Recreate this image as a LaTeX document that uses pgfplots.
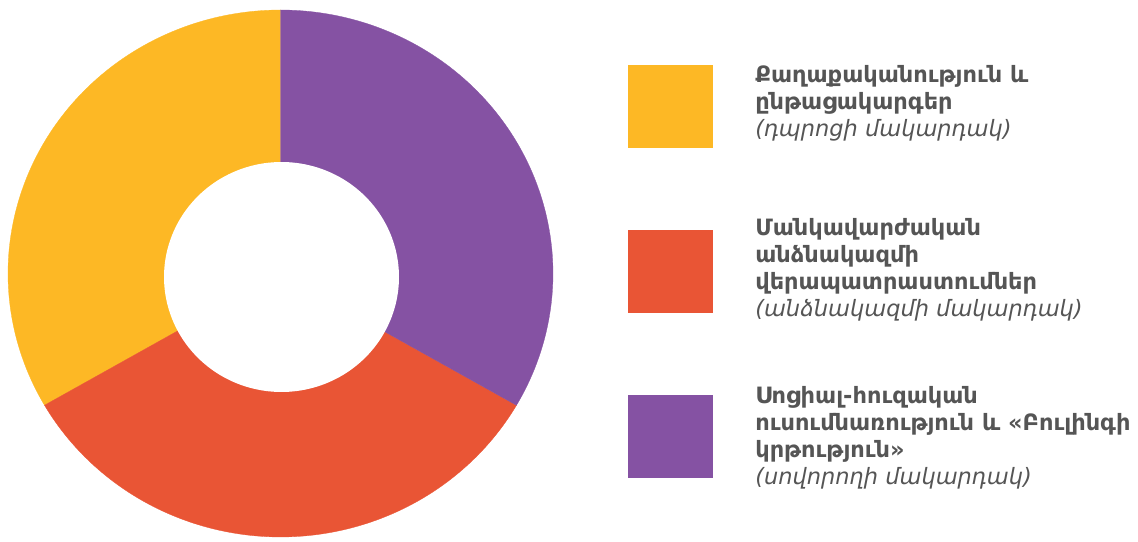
\documentclass[border=0pt]{standalone}
\usepackage{pgfplots}
\pgfplotsset{compat=1.18}
\usepackage{fontspec}
\setmainfont{DejaVu Sans}
\newfontfamily\arm{DejaVu Sans}
\definecolor{cY}{HTML}{FDB825}
\definecolor{cO}{HTML}{E95535}
\definecolor{cP}{HTML}{8552A3}
\definecolor{cT}{HTML}{555555}
% shares of the three levels (percent)
\def\shareY{33.333}
\def\shareO{33.333}
\def\shareP{33.334}
\pgfmathsetmacro\aP{90-3.6*\shareP}
\pgfmathsetmacro\aO{\aP-3.6*\shareO}
\pgfmathsetmacro\aY{\aO-3.6*\shareY}
% geometry (bp)
\def\cx{280.5}\def\cy{268.5}\def\rx{272.5}\def\ry{263.5}
\def\ix{281.5}\def\iy{265}\def\irx{117.5}\def\iry{115}
\newcommand{\entry}[3]{\smash{\raisebox{#1}{\parbox[t]{383bp}{\arm\fontsize{22.5bp}{27bp}\selectfont\color{cT}\raggedright\bfseries #2\\{\mdseries\itshape #3}}}}}
\begin{document}
\begin{tikzpicture}
\useasboundingbox (0,0) rectangle (1138bp,542bp);
\begin{axis}[
  scale only axis, width=1138bp, height=542bp,
  xmin=0, xmax=1138, ymin=0, ymax=542,
  hide axis, clip=false,
  legend cell align=left,
  legend image code/.code={\fill[#1] (0bp,-41bp) rectangle (84bp,41bp);},
  legend style={at={(axis cs:628,477)}, anchor=north west, draw=none, fill=none,
    inner sep=0pt, outer sep=0pt, row sep=82.5bp, column sep=43bp,
    nodes={inner sep=0pt, outer sep=0pt, anchor=west}},
]
\addplot[fill=cY, draw=cY, line width=0.3pt, domain=\aY:\aO, samples=120]
  ({\cx+\rx*cos(x)},{\cy+\ry*sin(x)}) -- (axis cs:\cx,\cy) -- cycle;
\addlegendentry{\entry{40bp}{Քաղաքականություն և\\ընթացակարգեր}{(դպրոցի մակարդակ)}}
\addplot[fill=cO, draw=cO, line width=0.3pt, domain=\aO:\aP, samples=120]
  ({\cx+\rx*cos(x)},{\cy+\ry*sin(x)}) -- (axis cs:\cx,\cy) -- cycle;
\addlegendentry{\entry{52bp}{Մանկավարժական\\անձնակազմի\\վերապատրաստումներ}{(անձնակազմի մակարդակ)}}
\addplot[fill=cP, draw=cP, line width=0.3pt, domain=\aP:90, samples=120]
  ({\cx+\rx*cos(x)},{\cy+\ry*sin(x)}) -- (axis cs:\cx,\cy) -- cycle;
\addlegendentry{\entry{49bp}{Սոցիալ-հուզական\\ուսումնառություն և «Բուլինգի\\կրթություն»}{(սովորողի մակարդակ)}}
\addplot[fill=white, draw=none, domain=0:360, samples=180, forget plot]
  ({\ix+\irx*cos(x)},{\iy+\iry*sin(x)});
\end{axis}
\end{tikzpicture}
\end{document}
